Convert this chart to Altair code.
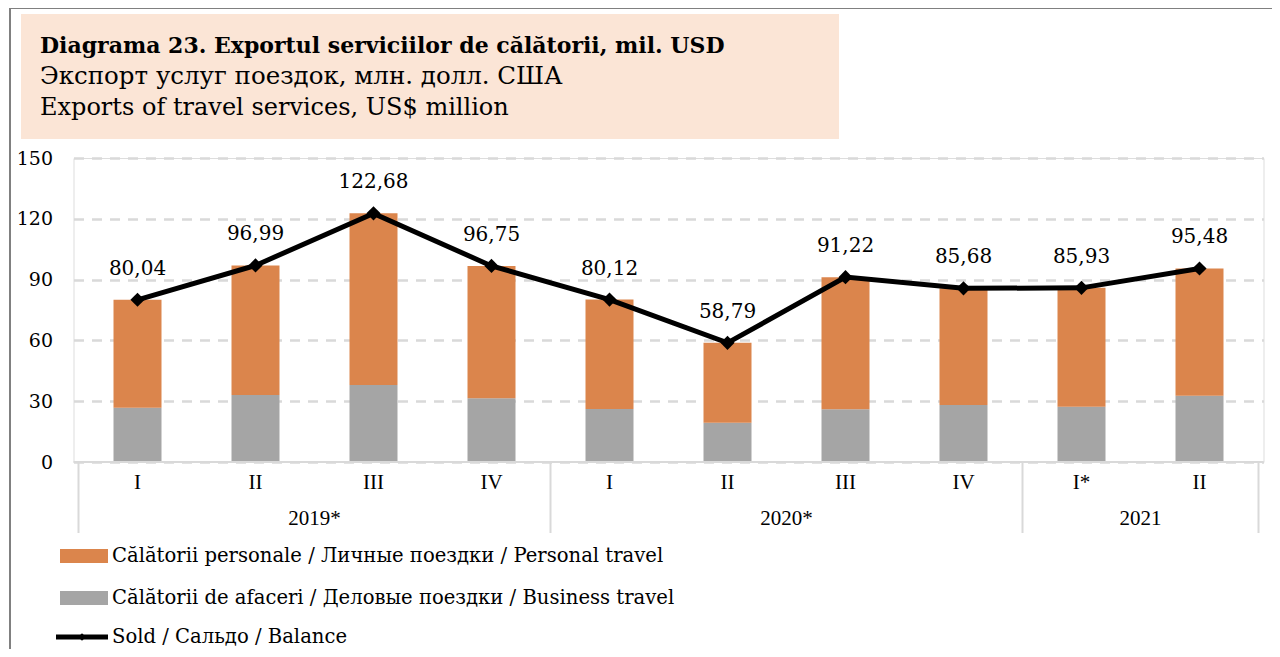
import altair as alt
import pandas as pd

# ---- data ----
quarters = ["I", "II", "III", "IV", "I", "II", "III", "IV", "I*", "II"]
years = ["2019*"] * 4 + ["2020*"] * 4 + ["2021"] * 2
business = [26.8, 33.0, 38.0, 31.4, 26.1, 19.4, 26.0, 28.1, 27.3, 32.7]
total = [80.04, 96.99, 122.68, 96.75, 80.12, 58.79, 91.22, 85.68, 85.93, 95.48]

year_labels = ["2019*", "2020*", "2021"]
year_centers = [1.5, 5.5, 8.5]
separators = [-0.5, 3.5, 7.5, 9.5]
y_ticks = [0, 30, 60, 90, 120, 150]

series_names = [
    "Călătorii personale / Личные поездки / Personal travel",
    "Călătorii de afaceri / Деловые поездки / Business travel",
    "Sold / Сальдо / Balance",
]
title_lines = [
    "Diagrama 23. Exportul serviciilor de călătorii, mil. USD",
    "Экспорт услуг поездок, млн. долл. США",
    "Exports of travel services, US$ million",
]

# ---- styling ----
C_PERSONAL = "#DB854C"
C_BUSINESS = "#A5A5A5"
C_GRID = "#D9D9D9"
SERIF = "DejaVu Serif"
TIMES = "Liberation Serif"

df = pd.DataFrame({
    "idx": list(range(len(quarters))),
    "quarter": quarters,
    "year": years,
    "business": business,
    "total": total,
})
df["personal"] = df["total"] - df["business"]
df["label"] = [f"{v:.2f}".replace(".", ",") for v in total]

xs = alt.Scale(domain=[-0.5, 9.5], nice=False, zero=False)
ys = alt.Scale(domain=[0, 150], nice=False, zero=True)
X = alt.X("idx:Q", scale=xs, axis=None)


def Y(field):
    return alt.Y(
        field, scale=ys, title=None,
        axis=alt.Axis(values=y_ticks, grid=True, gridColor=C_GRID, gridDash=[10, 8],
                      gridWidth=2.5, domain=False, ticks=False, labelPadding=21,
                      labelFont=SERIF, labelFontSize=19, labelColor="#000000"),
    )


base = alt.Chart(df)

bars_bus = base.mark_bar(size=48, color=C_BUSINESS).encode(
    x=X, y=Y("business:Q"), y2=alt.datum(0))
bars_per = base.mark_bar(size=48, color=C_PERSONAL).encode(
    x=X, y=Y("business:Q"), y2="total:Q")

zero_rule = alt.Chart(pd.DataFrame({"v": [0]})).mark_rule(
    color=C_GRID, strokeWidth=2).encode(
    y=Y("v:Q"), x=alt.value(0), x2=alt.value(1190))

line = base.mark_line(color="#000000", strokeWidth=5).encode(x=X, y=Y("total:Q"))
points = base.mark_point(shape="diamond", filled=True, size=200, color="#000000",
                         opacity=1).encode(x=X, y=Y("total:Q"))
labels = base.mark_text(dy=-31, font=SERIF, fontSize=20, color="#000000",
                        baseline="middle").encode(x=X, y=Y("total:Q"), text="label:N")

# category axis (two levels)
q_labels = base.mark_text(font=TIMES, fontSize=21, color="#000000",
                          baseline="middle").encode(x=X, y=alt.value(325), text="quarter:N")
ydf = pd.DataFrame({"pos": year_centers, "year": year_labels})
y_labels = alt.Chart(ydf).mark_text(font=TIMES, fontSize=21, color="#000000",
                                    baseline="middle").encode(
    x=alt.X("pos:Q", scale=xs, axis=None), y=alt.value(361), text="year:N")
sdf = pd.DataFrame({"pos": separators})
seps = alt.Chart(sdf).mark_rule(color=C_GRID, strokeWidth=2).encode(
    x=alt.X("pos:Q", scale=xs, axis=None), y=alt.value(304), y2=alt.value(375))

# title box
tbox = alt.Chart(pd.DataFrame({"a": [0]})).mark_rect(color="#FBE5D6").encode(
    x=alt.value(-52.5), x2=alt.value(765.5), y=alt.value(-144), y2=alt.value(-19))
title_y = [-105, -74, -43]
title_size = [22, 24.5, 24]
title_layers = []
for i, (t, yy) in enumerate(zip(title_lines, title_y)):
    title_layers.append(
        alt.Chart(pd.DataFrame({"t": [t]})).mark_text(
            align="left", baseline="alphabetic", font=SERIF, fontSize=title_size[i],
            fontWeight="bold" if i == 0 else "normal", color="#000000").encode(
            x=alt.value(-33.5), y=alt.value(yy), text="t:N"))

# frame lines of the document
frame_top = alt.Chart(pd.DataFrame({"a": [0]})).mark_rule(color="#808080", strokeWidth=2).encode(
    x=alt.value(-63.5), x2=alt.value(1200), y=alt.value(-150))
frame_left = alt.Chart(pd.DataFrame({"a": [0]})).mark_rule(color="#808080", strokeWidth=2).encode(
    x=alt.value(-63.5), y=alt.value(-150), y2=alt.value(500))

# legend
leg_y = [398, 440, 479]
leg_txt = []
for name, yy in zip(series_names, leg_y):
    leg_txt.append(alt.Chart(pd.DataFrame({"t": [name]})).mark_text(
        align="left", baseline="middle", font=SERIF, fontSize=19.6, color="#000000").encode(
        x=alt.value(38.5), y=alt.value(yy), text="t:N"))
sw1 = alt.Chart(pd.DataFrame({"a": [0]})).mark_rect(color=C_PERSONAL).encode(
    x=alt.value(-13.5), x2=alt.value(34.5), y=alt.value(leg_y[0] - 7), y2=alt.value(leg_y[0] + 7))
sw2 = alt.Chart(pd.DataFrame({"a": [0]})).mark_rect(color=C_BUSINESS).encode(
    x=alt.value(-13.5), x2=alt.value(34.5), y=alt.value(leg_y[1] - 7), y2=alt.value(leg_y[1] + 7))
sw3 = alt.Chart(pd.DataFrame({"a": [0]})).mark_rule(color="#000000", strokeWidth=5).encode(
    x=alt.value(-17.5), x2=alt.value(34.5), y=alt.value(leg_y[2]))
sw3p = alt.Chart(pd.DataFrame({"a": [0]})).mark_point(
    shape="diamond", filled=True, size=60, color="#000000", opacity=1).encode(
    x=alt.value(8.5), y=alt.value(leg_y[2]))

chart = alt.layer(
    tbox, *title_layers, frame_top, frame_left,
    bars_bus, bars_per, zero_rule, seps, line, points, labels, q_labels, y_labels,
    sw1, sw2, sw3, sw3p, *leg_txt,
).properties(
    width=1190, height=304,
    autosize=alt.AutoSizeParams(type="none"),
    padding={"left": 65.5, "top": 150, "right": 8.5, "bottom": 187},
).configure_view(stroke=None).configure(background="#FFFFFF")

chart.save("out.html", embed_options={"renderer": "svg", "actions": False})
